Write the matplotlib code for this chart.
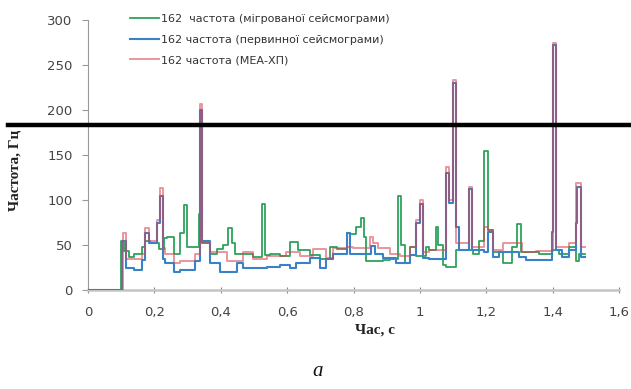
import matplotlib
matplotlib.use("Agg")
import matplotlib.pyplot as plt
from matplotlib.lines import Line2D
from matplotlib.ticker import FuncFormatter

# ---- data (time in s, frequency in Hz), step series ----
green_t = [0.0, 0.100, 0.108, 0.123, 0.138, 0.163, 0.173, 0.188, 0.213, 0.228, 0.238, 0.258,
           0.278, 0.288, 0.298, 0.333, 0.344, 0.368, 0.388, 0.408, 0.423, 0.433, 0.443, 0.468,
           0.498, 0.524, 0.534, 0.549, 0.579, 0.609, 0.634, 0.669, 0.699, 0.729, 0.749, 0.779,
           0.789, 0.809, 0.822, 0.832, 0.839, 0.889, 0.909, 0.934, 0.944, 0.954, 0.969, 0.989,
           1.009, 1.019, 1.029, 1.049, 1.054, 1.069, 1.079, 1.109, 1.119, 1.159, 1.179, 1.194,
           1.204, 1.219, 1.249, 1.279, 1.294, 1.304, 1.319, 1.359, 1.399, 1.419, 1.449, 1.469,
           1.479, 1.499]
green_v = [0, 55, 43, 37, 40, 48, 55, 52, 46, 58, 59, 40,
           63, 95, 48, 85, 52, 40, 46, 50, 69, 52, 40, 40,
           37, 96, 39, 40, 38, 53, 44, 39, 35, 48, 46, 63,
           62, 70, 80, 59, 32, 33, 34, 104, 50, 30, 48, 38,
           38, 48, 44, 70, 50, 28, 26, 45, 44, 40, 55, 155,
           67, 42, 30, 48, 73, 42, 42, 40, 44, 40, 48, 32,
           40, 40]

blue_t = [0.0, 0.103, 0.113, 0.138, 0.163, 0.173, 0.183, 0.208, 0.218, 0.226, 0.233, 0.258,
          0.278, 0.323, 0.337, 0.344, 0.368, 0.398, 0.448, 0.468, 0.538, 0.578, 0.608, 0.628,
          0.668, 0.698, 0.718, 0.738, 0.779, 0.789, 0.819, 0.854, 0.864, 0.889, 0.929, 0.969,
          0.989, 0.999, 1.009, 1.029, 1.079, 1.089, 1.099, 1.109, 1.119, 1.149, 1.156, 1.179,
          1.194, 1.204, 1.219, 1.239, 1.279, 1.299, 1.319, 1.399, 1.402, 1.409, 1.429, 1.449,
          1.469, 1.474, 1.484, 1.499]
blue_v = [0, 55, 24, 22, 33, 63, 52, 74, 104, 35, 30, 20,
          22, 32, 200, 55, 30, 20, 30, 24, 26, 28, 24, 30,
          36, 25, 34, 40, 63, 40, 40, 49, 40, 36, 30, 39,
          74, 96, 36, 34, 130, 97, 230, 70, 44, 112, 44, 44,
          42, 64, 37, 42, 42, 37, 33, 64, 272, 44, 37, 44,
          75, 115, 37, 37]

red_t = [0.0, 0.106, 0.113, 0.163, 0.173, 0.183, 0.208, 0.218, 0.226, 0.233, 0.258, 0.278,
         0.323, 0.337, 0.344, 0.368, 0.418, 0.468, 0.498, 0.538, 0.598, 0.638, 0.678, 0.718,
         0.738, 0.779, 0.799, 0.849, 0.859, 0.874, 0.909, 0.939, 0.969, 0.989, 0.999, 1.009,
         1.029, 1.079, 1.089, 1.099, 1.109, 1.149, 1.156, 1.194, 1.204, 1.219, 1.249, 1.309,
         1.349, 1.402, 1.409, 1.449, 1.469, 1.484, 1.499]
red_v = [0, 63, 35, 40, 69, 55, 78, 113, 47, 40, 30, 32,
         40, 207, 52, 42, 32, 42, 35, 38, 42, 38, 46, 36,
         47, 48, 47, 59, 52, 47, 40, 38, 48, 78, 100, 42,
         45, 137, 100, 233, 52, 115, 48, 70, 67, 45, 52, 42,
         43, 274, 48, 52, 119, 48, 48]

labels = ["162  частота (мігрованої сейсмограми)",
          "162 частота (первинної сейсмограми)",
          "162 частота (МЕА-ХП)"]
x_ticks = [0, 0.2, 0.4, 0.6, 0.8, 1.0, 1.2, 1.4, 1.6]
y_ticks = [0, 50, 100, 150, 200, 250, 300]

c_green = "#2ea35c"
c_blue = "#3a82c8"
c_red = "#d8404c"

fig = plt.figure(figsize=(6.31, 3.89), dpi=100)
ax = fig.add_axes([88/631, 1-290/389, 531/631, 270/389])

lg, = ax.plot(green_t, green_v, drawstyle="steps-post", color=c_green, lw=1.3, zorder=2)
lb, = ax.plot(blue_t, blue_v, drawstyle="steps-post", color=c_blue, lw=1.5, zorder=3)
lr, = ax.plot(red_t, red_v, drawstyle="steps-post", color=c_red, lw=1.4, alpha=0.55, zorder=4)

ax.set_xlim(0, 1.6)
ax.set_ylim(0, 300)
ax.set_xticks(x_ticks)
ax.set_yticks(y_ticks)
ax.xaxis.set_major_formatter(FuncFormatter(lambda v, p: ("%g" % v).replace(".", ",")))
for s in ["top", "right"]:
    ax.spines[s].set_visible(False)
ax.spines["left"].set_color("#999999")
ax.spines["left"].set_linewidth(0.8)
ax.spines["bottom"].set_color("#c4c4c4")
ax.spines["bottom"].set_linewidth(1.8)
ax.tick_params(axis="y", direction="out", length=4, color="#999999", labelsize=9.5,
               labelcolor="#444444", pad=7)
ax.tick_params(axis="x", direction="inout", length=5, color="#888888", labelsize=9.5,
               labelcolor="#444444", pad=9)

fig.text(15/631, 1-170/389, "Частота, Гц", rotation=90, ha="center", va="center",
         family="Liberation Serif", fontweight="bold", fontsize=11, color="#222222")
fig.text(375/631, 1-330/389, "Час, с", ha="center", va="center",
         family="Liberation Serif", fontweight="bold", fontsize=11, color="#222222")
fig.text(318/631, 1-372/389, "а", ha="center", va="center",
         family="Liberation Serif", style="italic", fontsize=15, color="#111111")

leg = fig.legend([lg, lb, lr], labels, loc="upper left", bbox_to_anchor=(130/631, 1-14/389),
                 frameon=False, fontsize=8, handlelength=2.6, handletextpad=0.15,
                 labelspacing=0.95, borderaxespad=0, borderpad=0)
for t in leg.get_texts():
    t.set_color("#333333")

fig.add_artist(Line2D([8/631, 1.0], [1-125/389, 1-125/389], color="black", lw=3.2,
                      transform=fig.transFigure))

fig.savefig("out.png", dpi=100)
